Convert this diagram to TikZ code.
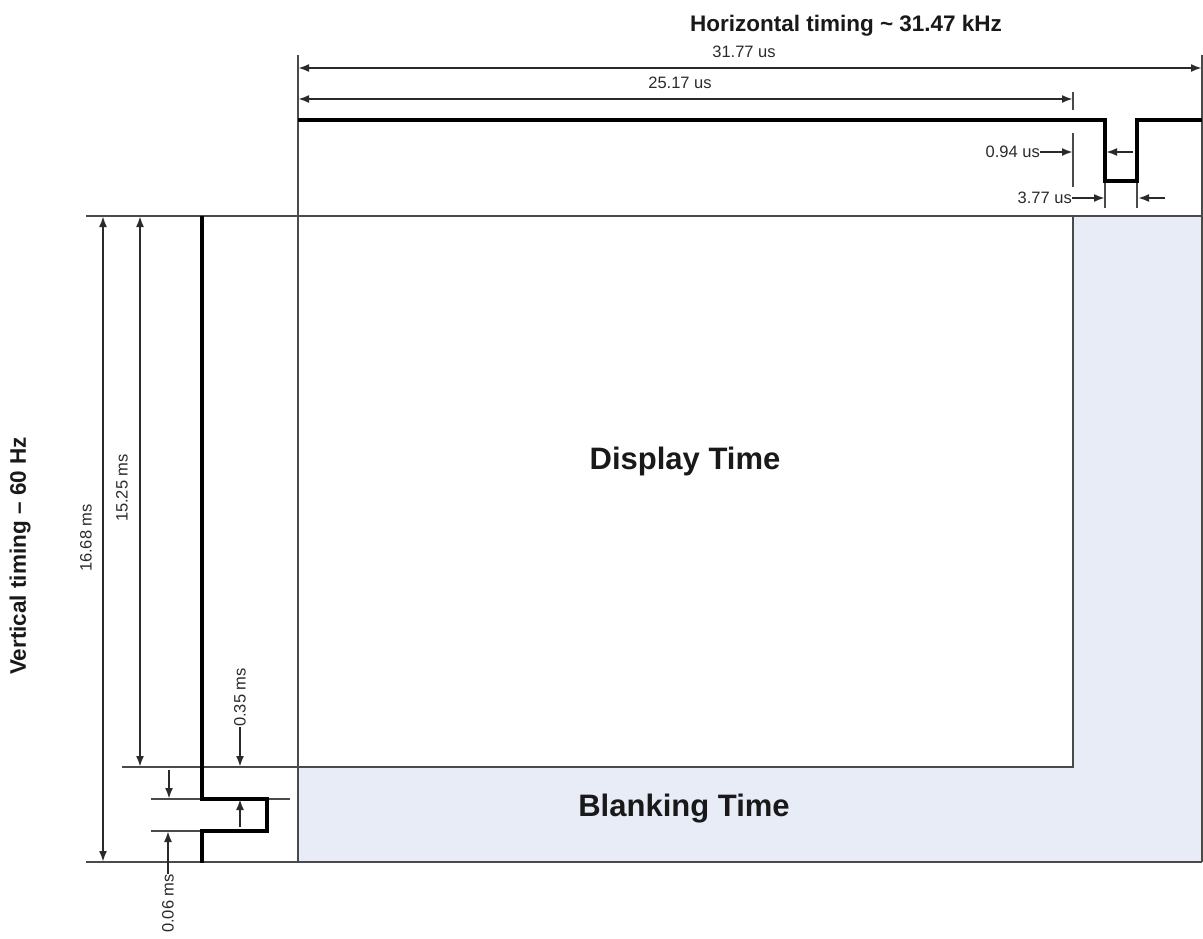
\documentclass[tikz,border=0pt]{standalone}
\usepackage{fontspec}
\setmainfont{Liberation Sans}
\usetikzlibrary{arrows.meta}
\definecolor{blank}{HTML}{E8ECF6}
\definecolor{boxline}{HTML}{4A4A4A}
\definecolor{dimline}{HTML}{2A2A2A}
\begin{document}
\begin{tikzpicture}[x=1pt,y=-1pt,
  dim/.style={draw=dimline, line width=2pt},
  dimarr/.style={dim, -{Latex[length=11pt,width=8pt]}},
  dimboth/.style={dim, {Latex[length=11pt,width=8pt]}-{Latex[length=11pt,width=8pt]}},
  frameline/.style={draw=boxline, line width=2.6pt},
  wave/.style={draw=black, line width=4.2pt, line join=miter},
  lbl/.style={font=\fontsize{16.5}{18}\selectfont, inner sep=0pt, text=dimline},
  titlelbl/.style={font=\bfseries\fontsize{22.5}{26}\selectfont, inner sep=0pt, text=black!90},
  biglbl/.style={font=\bfseries\fontsize{31}{34}\selectfont, inner sep=0pt, text=black!90}]
\useasboundingbox (0,0) rectangle (1203,938);

% shaded blanking region
\fill[blank] (1073,216) -- (1202,216) -- (1202,862) -- (298,862) -- (298,767) -- (1073,767) -- cycle;

% frame coordinates
\coordinate (topL) at (86,216);   \coordinate (topR) at (1202,216);
\coordinate (botL) at (86,862);   \coordinate (botR) at (1202,862);
\coordinate (dispBL) at (122,767); \coordinate (dispB) at (1073,767); \coordinate (dispT) at (1073,216);
\coordinate (leftT) at (298,55);  \coordinate (leftB) at (298,862);
\coordinate (rightT) at (1202,55); \coordinate (rightB) at (1202,862);
\coordinate (syncTL) at (151,799); \coordinate (syncTR) at (290,799);
\coordinate (syncBL) at (151,831); \coordinate (syncBR) at (202,831);

\draw[frameline] (topL) -- (topR);
\draw[frameline] (botL) -- (botR);
\draw[frameline] (dispBL) -- (dispB) -- (dispT);
\draw[frameline] (leftT) -- (leftB);
\draw[frameline] (rightT) -- (rightB);
\draw[frameline] (syncTL) -- (syncTR);
\draw[frameline] (syncBL) -- (syncBR);

% ticks
\coordinate (tkA1) at (1073,92);  \coordinate (tkA2) at (1073,110);
\coordinate (tkB1) at (1073,133); \coordinate (tkB2) at (1073,187);
\coordinate (tkC1) at (1105,181); \coordinate (tkC2) at (1105,208);
\coordinate (tkD1) at (1137,181); \coordinate (tkD2) at (1137,208);
\draw[frameline] (tkA1) -- (tkA2);
\draw[frameline] (tkB1) -- (tkB2);
\draw[frameline] (tkC1) -- (tkC2);
\draw[frameline] (tkD1) -- (tkD2);

% horizontal waveform
\coordinate (hw0) at (298,120); \coordinate (hw1) at (1105,120); \coordinate (hw2) at (1105,181);
\coordinate (hw3) at (1137,181); \coordinate (hw4) at (1137,120); \coordinate (hw5) at (1202,120);
\draw[wave] (hw0) -- (hw1) -- (hw2) -- (hw3) -- (hw4) -- (hw5);

% vertical waveform
\coordinate (vw0) at (202,216); \coordinate (vw1) at (202,799); \coordinate (vw2) at (267,799);
\coordinate (vw3) at (267,831); \coordinate (vw4) at (202,831); \coordinate (vw5) at (202,863);
\draw[wave] (vw0) -- (vw1) -- (vw2) -- (vw3) -- (vw4) -- (vw5);

% horizontal dimensions
\coordinate (dA1) at (298,68);  \coordinate (dA2) at (1202,68);
\coordinate (dB1) at (298,99);  \coordinate (dB2) at (1073,99);
\draw[dimboth] (dA1) -- (dA2);
\draw[dimboth] (dB1) -- (dB2);
\node[lbl] (l3177) at (744,52) {31.77 us};
\node[lbl] (l2517) at (680,83) {25.17 us};
\node[titlelbl, anchor=base] (htitle) at (846,31) {Horizontal timing \textasciitilde{} 31.47 kHz};

\node[lbl, anchor=east] (l094) at (1040,152) {0.94 us};
\coordinate (e094) at (1073,152);
\coordinate (s094r) at (1133,152); \coordinate (e094r) at (1106,152);
\draw[dimarr] (l094.east) -- (e094);
\draw[dimarr] (s094r) -- (e094r);

\node[lbl, anchor=east] (l377) at (1072,198) {3.77 us};
\coordinate (e377) at (1105,198);
\coordinate (s377r) at (1165,198); \coordinate (e377r) at (1138,198);
\draw[dimarr] (l377.east) -- (e377);
\draw[dimarr] (s377r) -- (e377r);

% vertical dimensions
\coordinate (vA1) at (103,216); \coordinate (vA2) at (103,862);
\coordinate (vB1) at (140,216); \coordinate (vB2) at (140,767);
\draw[dimboth] (vA1) -- (vA2);
\draw[dimboth] (vB1) -- (vB2);
\node[lbl, rotate=90] (l1668) at (86,538) {16.68 ms};
\node[lbl, rotate=90] (l1525) at (122,488) {15.25 ms};

\node[lbl, rotate=90, anchor=west] (l035) at (240,727) {0.35 ms};
\coordinate (e035) at (240,767);
\draw[dimarr] (l035.west) -- (e035);
\coordinate (s035u) at (240,827); \coordinate (e035u) at (240,799);
\draw[dimarr] (s035u) -- (e035u);

\coordinate (s006d) at (169,770); \coordinate (e006d) at (169,799);
\draw[dimarr] (s006d) -- (e006d);
\node[lbl, rotate=90, anchor=east] (l006) at (168,874) {0.06 ms};
\coordinate (e006) at (168,831);
\draw[dimarr] (l006.east) -- (e006);

\node[titlelbl, rotate=90] (vtitle) at (20,556) {Vertical timing -- 60 Hz};

% region labels
\node[biglbl] (disp) at (685,461) {Display Time};
\node[biglbl] (blank) at (684,809) {Blanking Time};
\end{tikzpicture}
\end{document}
